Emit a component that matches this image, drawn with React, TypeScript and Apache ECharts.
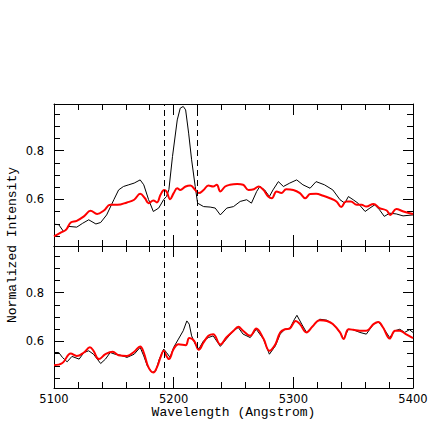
import React, { useEffect, useRef } from "react";
import * as echarts from "echarts";

// Top panel: observed (black) spectrum
const topObsW = [5100, 5104, 5108, 5112.5, 5119, 5124, 5129, 5135, 5139, 5144, 5150, 5154, 5158, 5162.5, 5167, 5172, 5175, 5179, 5183, 5187.5, 5191.7, 5194, 5196, 5199, 5203, 5205.5, 5208, 5210, 5212.5, 5215, 5218, 5220, 5225, 5230.5, 5234.7, 5239, 5244.4, 5250, 5255.6, 5261, 5265, 5269.4, 5272, 5276, 5280, 5283, 5287.5, 5291.7, 5297, 5302.8, 5308, 5314, 5319, 5326, 5333, 5339, 5343, 5346, 5350, 5354, 5360, 5364, 5368, 5372, 5376, 5380.5, 5386, 5391.7, 5400];
const topObsV = [0.499, 0.497, 0.469, 0.49, 0.487, 0.503, 0.517, 0.5, 0.506, 0.537, 0.599, 0.639, 0.653, 0.66, 0.667, 0.68, 0.66, 0.6, 0.551, 0.565, 0.6, 0.612, 0.64, 0.775, 0.925, 0.973, 0.98, 0.966, 0.871, 0.762, 0.653, 0.585, 0.571, 0.569, 0.565, 0.537, 0.565, 0.571, 0.592, 0.599, 0.585, 0.633, 0.653, 0.639, 0.612, 0.639, 0.673, 0.653, 0.667, 0.68, 0.66, 0.646, 0.673, 0.66, 0.639, 0.599, 0.585, 0.612, 0.599, 0.585, 0.551, 0.565, 0.578, 0.558, 0.531, 0.544, 0.541, 0.533, 0.537];

// Top panel: model (red) spectrum
const topModW = [5100, 5105.6, 5110, 5114, 5119, 5125, 5130.6, 5136, 5141.7, 5147, 5153, 5161, 5167, 5172, 5176, 5179, 5183, 5186, 5189, 5192, 5194, 5197, 5200, 5203, 5205.5, 5210, 5214, 5218, 5221, 5225, 5229, 5233, 5236, 5239, 5243, 5247, 5253, 5258, 5262.5, 5267, 5271, 5275, 5279, 5282, 5286, 5290, 5294, 5300, 5305.5, 5310, 5314, 5319, 5325, 5330.6, 5336, 5340, 5344, 5348, 5353, 5357, 5361, 5367, 5372, 5378, 5381, 5386, 5392, 5400];
const topModV = [0.449, 0.465, 0.476, 0.506, 0.513, 0.531, 0.554, 0.541, 0.555, 0.578, 0.578, 0.588, 0.599, 0.623, 0.605, 0.585, 0.596, 0.588, 0.619, 0.639, 0.633, 0.601, 0.626, 0.646, 0.639, 0.653, 0.657, 0.639, 0.626, 0.639, 0.657, 0.653, 0.66, 0.633, 0.653, 0.66, 0.663, 0.66, 0.639, 0.642, 0.653, 0.639, 0.612, 0.605, 0.633, 0.626, 0.642, 0.639, 0.626, 0.605, 0.622, 0.623, 0.615, 0.605, 0.592, 0.569, 0.592, 0.592, 0.578, 0.578, 0.571, 0.582, 0.565, 0.555, 0.537, 0.561, 0.551, 0.541];

// Bottom panel: observed (black) spectrum
const botObsW = [5100, 5104, 5107, 5111, 5115, 5121, 5125, 5129, 5133, 5139, 5143, 5147, 5151, 5155.6, 5161, 5167, 5172, 5175, 5178, 5182, 5185, 5188, 5191.7, 5194, 5197, 5200, 5204, 5208, 5211, 5213, 5215, 5218, 5221, 5225, 5229, 5233, 5239, 5244, 5250, 5254, 5258, 5264, 5269, 5275, 5280, 5285, 5289, 5293, 5297, 5301, 5303, 5307, 5311, 5316, 5322, 5328, 5333, 5339, 5342, 5346, 5350, 5355.6, 5361, 5367, 5371, 5375, 5380.5, 5385, 5389, 5393, 5397, 5400];
const botObsV = [0.555, 0.555, 0.535, 0.517, 0.539, 0.528, 0.555, 0.562, 0.548, 0.51, 0.528, 0.555, 0.548, 0.544, 0.535, 0.548, 0.576, 0.541, 0.5, 0.473, 0.48, 0.528, 0.569, 0.555, 0.535, 0.576, 0.61, 0.644, 0.684, 0.671, 0.623, 0.589, 0.569, 0.603, 0.616, 0.623, 0.58, 0.61, 0.644, 0.657, 0.63, 0.616, 0.65, 0.61, 0.548, 0.582, 0.63, 0.65, 0.653, 0.691, 0.707, 0.671, 0.637, 0.661, 0.691, 0.687, 0.671, 0.637, 0.61, 0.65, 0.648, 0.637, 0.63, 0.671, 0.68, 0.657, 0.616, 0.644, 0.65, 0.637, 0.648, 0.637];

// Bottom panel: model (red) spectrum
const botModW = [5100, 5107, 5114, 5119, 5125, 5130, 5133, 5137.5, 5143, 5149, 5154, 5161, 5167, 5172, 5175, 5179, 5183, 5186, 5189, 5191.7, 5194, 5196, 5200, 5204, 5210, 5213, 5217, 5221, 5225, 5229, 5233, 5239, 5244, 5250, 5254, 5258, 5264, 5269, 5275, 5280, 5285, 5289, 5293, 5297, 5302, 5305.5, 5311, 5316, 5322, 5328, 5333, 5339, 5342, 5346, 5350, 5355.6, 5361, 5367, 5371, 5375, 5380.5, 5385, 5389, 5394, 5400];
const botModV = [0.503, 0.512, 0.551, 0.541, 0.555, 0.576, 0.562, 0.528, 0.548, 0.558, 0.544, 0.541, 0.558, 0.58, 0.555, 0.494, 0.473, 0.494, 0.535, 0.562, 0.541, 0.528, 0.569, 0.589, 0.585, 0.614, 0.603, 0.566, 0.596, 0.623, 0.63, 0.588, 0.616, 0.644, 0.66, 0.644, 0.623, 0.653, 0.612, 0.562, 0.589, 0.637, 0.65, 0.653, 0.684, 0.671, 0.637, 0.661, 0.687, 0.684, 0.671, 0.637, 0.61, 0.65, 0.648, 0.644, 0.644, 0.671, 0.68, 0.657, 0.612, 0.644, 0.644, 0.63, 0.614];

const dashedW = [5192.5, 5220];
const xMin = 5100;
const xMax = 5400;
const xStep = 100;
const yMin = 0.41;
const yMax = 0.99;
const xTitle = "Wavelength (Angstrom)";
const yTitle = "Normalized Intensity";

const zip = (w: number[], v: number[]) => w.map((x, i) => [x, v[i]]);

const LABEL_FONT = "DejaVu Sans";
const TITLE_FONT = "Liberation Mono";

function xAxis(gridIndex: number, position: "top" | "bottom", showLabel: boolean) {
  return {
    type: "value",
    gridIndex,
    position,
    min: xMin,
    max: xMax,
    interval: xStep,
    axisLine: { show: true, onZero: false, lineStyle: { color: "#000", width: 1 } },
    axisTick: { show: true, inside: true, length: 11, lineStyle: { color: "#000", width: 1 } },
    minorTick: { show: true, splitNumber: 5, length: 6, lineStyle: { color: "#000", width: 1 } },
    axisLabel: {
      show: showLabel,
      color: "#000",
      fontFamily: LABEL_FONT,
      fontSize: 11.5,
      lineHeight: 12,
      margin: 5,
      formatter: (val: number) => String(Math.round(val)),
    },
    splitLine: { show: false },
    minorSplitLine: { show: false },
  };
}

function yAxis(gridIndex: number, position: "left" | "right", showLabel: boolean) {
  return {
    type: "value",
    gridIndex,
    position,
    min: yMin,
    max: yMax,
    splitNumber: 3,
    axisLine: { show: true, onZero: false, lineStyle: { color: "#000", width: 1 } },
    axisTick: { show: true, inside: true, length: 10, lineStyle: { color: "#000", width: 1 } },
    minorTick: { show: true, splitNumber: 4, length: 6, lineStyle: { color: "#000", width: 1 } },
    axisLabel: {
      show: showLabel,
      color: "#000",
      fontFamily: LABEL_FONT,
      fontSize: 11.5,
      margin: 10,
      formatter: (val: number) =>
        Math.abs(val * 5 - Math.round(val * 5)) < 1e-6 ? val.toFixed(1) : "",
    },
    splitLine: { show: false },
    minorSplitLine: { show: false },
  };
}

function dashMark() {
  return {
    silent: true,
    symbol: "none",
    label: { show: false },
    lineStyle: { color: "#000", width: 1, type: [6, 4] },
    data: dashedW.map((w) => ({ xAxis: w })),
  };
}

export default function App() {
  const ref = useRef<HTMLDivElement>(null);
  useEffect(() => {
    if (!ref.current) return;
    const chart = echarts.init(ref.current, undefined, { renderer: "svg" });
    chart.setOption({
      animation: false,
      backgroundColor: "#fff",
      grid: [
        { left: 54, top: 104, width: 359, height: 142, outerBoundsMode: "none" },
        { left: 54, top: 246, width: 359, height: 142, outerBoundsMode: "none" },
      ],
      xAxis: [
        xAxis(0, "bottom", false),
        xAxis(0, "top", false),
        xAxis(1, "bottom", true),
        xAxis(1, "top", false),
      ],
      yAxis: [
        yAxis(0, "left", true),
        yAxis(0, "right", false),
        yAxis(1, "left", true),
        yAxis(1, "right", false),
      ],
      series: [
        {
          type: "line",
          xAxisIndex: 0,
          yAxisIndex: 0,
          data: zip(topObsW, topObsV),
          showSymbol: false,
          lineStyle: { color: "#000", width: 1 },
          markLine: dashMark(),
        },
        {
          type: "line",
          xAxisIndex: 0,
          yAxisIndex: 0,
          data: zip(topModW, topModV),
          showSymbol: false,
          smooth: 0.4,
          lineStyle: { color: "#ff0000", width: 2 },
        },
        {
          type: "line",
          xAxisIndex: 2,
          yAxisIndex: 2,
          data: zip(botObsW, botObsV),
          showSymbol: false,
          lineStyle: { color: "#000", width: 1 },
          markLine: dashMark(),
        },
        {
          type: "line",
          xAxisIndex: 2,
          yAxisIndex: 2,
          data: zip(botModW, botModV),
          showSymbol: false,
          smooth: 0.4,
          lineStyle: { color: "#ff0000", width: 2 },
        },
      ],
      graphic: [
        {
          type: "text",
          x: 233.5,
          y: 412,
          style: {
            text: xTitle,
            fill: "#000",
            font: `13px "${TITLE_FONT}"`,
            align: "center",
            verticalAlign: "middle",
          },
        },
        {
          type: "text",
          x: 12,
          y: 245,
          rotation: Math.PI / 2,
          style: {
            text: yTitle,
            fill: "#000",
            font: `13px "${TITLE_FONT}"`,
            align: "center",
            verticalAlign: "middle",
          },
        },
      ],
    });
    return () => chart.dispose();
  }, []);
  return (
    <div
      ref={ref}
      style={{ position: "fixed", left: 0, top: 0, width: 436, height: 436 }}
    />
  );
}
